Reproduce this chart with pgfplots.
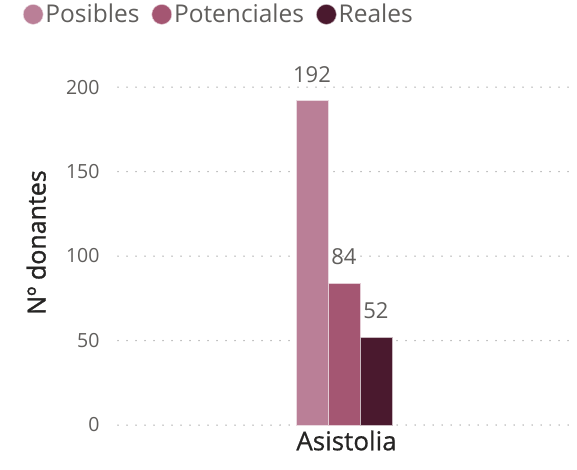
\documentclass[border=0pt]{standalone}
\usepackage{pgfplots}
\pgfplotsset{compat=1.18}
\usepackage{fontspec}
\setmainfont{Open Sans}
\newfontfamily\semib{Open Sans}[FakeBold=1.2]
\newfontfamily\medf{Open Sans}[FakeBold=0.6]
\definecolor{cA}{HTML}{BA7F97}
\definecolor{cB}{HTML}{A45672}
\definecolor{cC}{HTML}{4A192E}
\definecolor{tickgray}{HTML}{605E5C}
\definecolor{labdark}{HTML}{252423}
\begin{document}
\begin{tikzpicture}
\path[use as bounding box] (0,0) rectangle (577pt,469pt);
\begin{axis}[
  at={(118pt,44pt)}, anchor=south west,
  scale only axis, width=457pt, height=365pt,
  xmin=0, xmax=1, ymin=0, ymax=216,
  ybar=0pt, bar width=32pt,
  axis line style={draw=none},
  major tick length=0pt,
  xtick={0.5}, xticklabels={Asistolia},
  xticklabel style={font=\fontsize{26}{30}\medf, text=labdark, yshift=-2pt},
  ytick={0,50,100,150,200},
  yticklabel style={font=\fontsize{19.5}{22}\selectfont, text=tickgray, xshift=-15pt},
  /pgf/number format/assume math mode=true,
  ymajorgrids,
  grid style={draw=gray!75, line width=1.5pt, dash pattern=on 0pt off 9pt, line cap=round},
  ylabel={Nº donantes},
  ylabel style={font=\fontsize{25}{28}\semib, text=labdark, at={(axis description cs:-0.179,0.5)}, anchor=center, rotate=0},
  nodes near coords,
  nodes near coords style={font=\fontsize{22}{25}\selectfont, text=tickgray, anchor=south, inner sep=0pt, yshift=18pt},
  legend columns=-1,
  legend style={at={(-0.215,1.164)}, anchor=north west, draw=none, fill=none,
    font=\fontsize{24.5}{28}\selectfont, text=tickgray,
    /tikz/every even column/.append style={column sep=10pt}},
  legend image code/.code={\fill[#1] (0.26cm,0cm) circle (10pt);},
]
\addplot[fill=cA, draw=white!70!cA, line width=0.5pt] coordinates {(0.4945,192)};
\addplot[fill=cB, draw=white!70!cB, line width=0.5pt] coordinates {(0.4945,84)};
\addplot[fill=cC, draw=white!70!cC, line width=0.5pt] coordinates {(0.4945,52)};
\legend{Posibles, Potenciales, Reales}
\end{axis}
\end{tikzpicture}
\end{document}
